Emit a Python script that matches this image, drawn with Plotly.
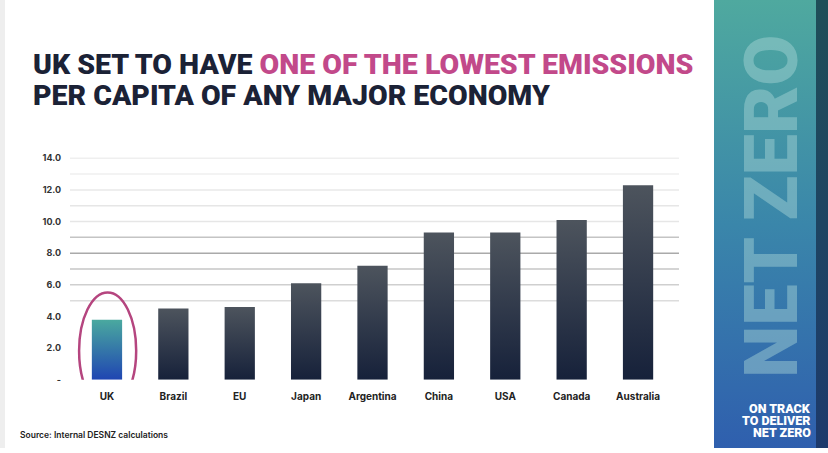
import plotly.graph_objects as go

# ---- data ----
countries = ["UK", "Brazil", "EU", "Japan", "Argentina", "China", "USA", "Canada", "Australia"]
values = [3.8, 4.5, 4.6, 6.1, 7.2, 9.3, 9.3, 10.1, 12.3]
y_tickvals = [0, 2, 4, 6, 8, 10, 12, 14]
y_ticktext = ["-", "2.0", "4.0", "6.0", "8.0", "10.0", "12.0", "14.0"]
grid_values = [5, 6, 7, 8, 9, 10, 11, 12, 13, 14]
grid_colors = ["#dcdcdc", "#cfcfcf", "#c6c6c6", "#aaaaaa", "#c4c4c4",
               "#e6e6e6", "#e6e6e6", "#e8e8e8", "#efefef", "#efefef"]

W, H = 828, 453
DY = 4  # vertical correction
BAR_HALF = 0.228

def px(x):
    return x / W

def py(y):
    return 1 - (y + DY) / H

fig = go.Figure()

for i, (c, v) in enumerate(zip(countries, values)):
    if c == "UK":
        cs = [[0, "#1f45b2"], [1, "#4aa99f"]]
    else:
        cs = [[0, "#16213a"], [1, "#4d545d"]]
    fig.add_trace(go.Scatter(
        x=[i - BAR_HALF, i + BAR_HALF, i + BAR_HALF, i - BAR_HALF, i - BAR_HALF],
        y=[0, 0, v, v, 0],
        mode="lines", line=dict(width=0), fill="toself",
        fillgradient=dict(type="vertical", colorscale=cs),
        hoverinfo="text", text=f"{c}: {v}", showlegend=False,
        xaxis="x", yaxis="y",
    ))

# right side panel (decoration)
fig.add_trace(go.Scatter(
    x=[714, 816, 816, 714, 714], y=[0, 0, 1, 1, 0],
    mode="lines", line=dict(width=0), fill="toself",
    fillgradient=dict(type="vertical",
                      colorscale=[[0, "#2f5fae"], [0.5, "#3a86aa"], [1, "#4fa99f"]]),
    hoverinfo="skip", showlegend=False, xaxis="x2", yaxis="y2"))
fig.add_trace(go.Scatter(
    x=[816, 828, 828, 816, 816], y=[0, 0, 1, 1, 0],
    mode="lines", line=dict(width=0), fill="toself",
    fillgradient=dict(type="vertical",
                      colorscale=[[0, "#1d3a6c"], [1, "#1f4e58"]]),
    hoverinfo="skip", showlegend=False, xaxis="x2", yaxis="y2"))

shapes = []
for gv, gc in zip(grid_values, grid_colors):
    shapes.append(dict(type="line", xref="paper", yref="y",
                       x0=px(70), x1=px(679), y0=gv, y1=gv,
                       line=dict(color=gc, width=1.5), layer="below"))
shapes.append(dict(type="circle", xref="x", yref="y",
                   x0=-0.42, x1=0.44, y0=-1.85, y1=5.52,
                   line=dict(color="#b5457f", width=2.5)))
shapes.append(dict(type="rect", xref="paper", yref="paper",
                   x0=px(0), x1=px(5), y0=0, y1=1, line=dict(width=0),
                   fillcolor="#eeeeee", layer="below"))

TITLE_FONT = "Roboto, sans-serif"
annotations = [
    dict(text="UK SET TO HAVE <span style='color:#c2498a'>ONE OF THE LOWEST EMISSIONS</span>",
         x=px(31), y=py(61), xref="paper", yref="paper", xanchor="left", yanchor="middle",
         showarrow=False, font=dict(family=TITLE_FONT, size=28.5, color="#1b2236", weight=900)),
    dict(text="PER CAPITA OF ANY MAJOR ECONOMY",
         x=px(31), y=py(93), xref="paper", yref="paper", xanchor="left", yanchor="middle",
         showarrow=False, font=dict(family=TITLE_FONT, size=28.5, color="#1b2236", weight=900)),
    dict(text="Source: Internal DESNZ calculations",
         x=px(18), y=py(436), xref="paper", yref="paper", xanchor="left", yanchor="middle",
         showarrow=False, font=dict(family="Inter, sans-serif", size=8.5, color="#222222", weight=600)),
    dict(text="NET ZERO", textangle=-90,
         x=px(772), y=py(205), xref="paper", yref="paper", xanchor="center", yanchor="middle",
         showarrow=False, font=dict(family="Roboto, sans-serif", size=74,
                                    color="rgba(170,215,215,0.45)", weight=900)),
]
for t, yy in [("ON TRACK", 409), ("TO DELIVER", 421), ("NET ZERO", 433)]:
    annotations.append(dict(text=t, x=px(813), y=py(yy), xref="paper", yref="paper",
                            xanchor="right", yanchor="middle", showarrow=False,
                            font=dict(family="Roboto, sans-serif", size=12.5,
                                      color="white", weight=900)))

fig.update_layout(
    width=W, height=H, margin=dict(l=0, r=0, t=0, b=0),
    paper_bgcolor="white", plot_bgcolor="rgba(0,0,0,0)",
    xaxis=dict(domain=[px(70), px(679)], range=[-0.557, 8.617],
               tickmode="array", tickvals=list(range(len(countries))), ticktext=countries,
               showgrid=False, zeroline=False, showline=False, ticks="",
               ticklabelstandoff=9,
               tickfont=dict(family="Inter, sans-serif", size=10, color="#222222", weight=700)),
    yaxis=dict(domain=[py(380), py(148)], range=[0, 14.5],
               tickmode="array", tickvals=y_tickvals, ticktext=y_ticktext,
               showgrid=False, zeroline=False, showline=False, ticks="",
               ticklabelstandoff=8,
               tickfont=dict(family="Inter, sans-serif", size=9, color="#333333", weight=700)),
    xaxis2=dict(domain=[px(714), 1], range=[714, 828], visible=False, fixedrange=True),
    yaxis2=dict(domain=[0, 1], range=[0, 1], visible=False, fixedrange=True),
    shapes=shapes, annotations=annotations, showlegend=False,
)

fig.write_html("out.html", config={"displayModeBar": False},
               post_script="document.body.style.margin='0';document.body.style.overflow='hidden';")
